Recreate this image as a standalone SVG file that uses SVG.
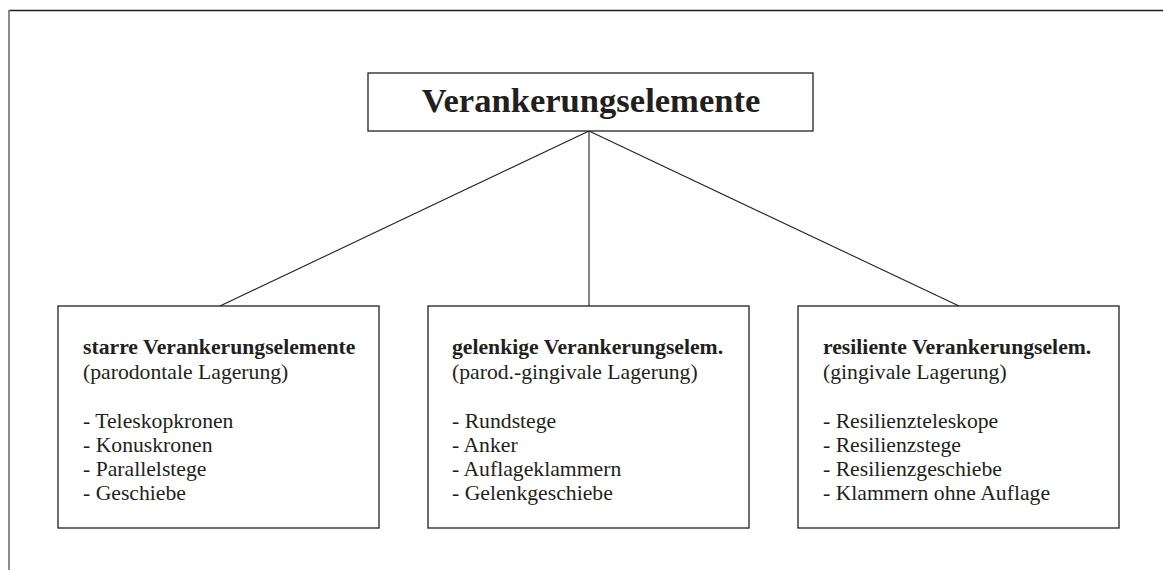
<svg xmlns="http://www.w3.org/2000/svg" width="1163" height="570" viewBox="0 0 1163 570">
<style>
.box{fill:#fff;stroke:#231f20;stroke-width:1.3}
.conn{stroke:#231f20;stroke-width:1.1;fill:none}
.t{font-family:"Liberation Serif","Times New Roman",serif;font-size:21.7px;fill:#231f20}
.b{font-weight:bold}
.title{font-family:"Liberation Serif","Times New Roman",serif;font-size:34.6px;font-weight:bold;fill:#231f20}
</style>
<rect width="1163" height="570" fill="#fff"/>
<g id="frame">
<line x1="9" y1="10.5" x2="1163" y2="10.5" stroke="#231f20" stroke-width="1.3"/>
<line x1="9" y1="10" x2="9" y2="570" stroke="#707070" stroke-width="1.6"/>
</g>
<g id="connectors">
<line class="conn" x1="589" y1="131" x2="220" y2="306"/>
<line class="conn" x1="589" y1="131" x2="589" y2="306"/>
<line class="conn" x1="589" y1="131" x2="959" y2="306"/>
</g>
<g id="root">
<rect class="box" x="368" y="73" width="445" height="58"/>
<text class="title" x="591" y="112" text-anchor="middle">Verankerungselemente</text>
</g>
<g id="starr">
<rect class="box" x="58" y="306" width="321" height="222"/>
<text class="t" x="83" y="354"><tspan class="b">starre Verankerungselemente</tspan><tspan x="83" y="379">(parodontale Lagerung)</tspan><tspan x="83" y="428">- Teleskopkronen</tspan><tspan x="83" y="452">- Konuskronen</tspan><tspan x="83" y="476">- Parallelstege</tspan><tspan x="83" y="500">- Geschiebe</tspan></text>
</g>
<g id="gelenkig">
<rect class="box" x="428" y="306" width="321" height="222"/>
<text class="t" x="452" y="354"><tspan class="b">gelenkige Verankerungselem.</tspan><tspan x="452" y="379">(parod.-gingivale Lagerung)</tspan><tspan x="452" y="428">- Rundstege</tspan><tspan x="452" y="452">- Anker</tspan><tspan x="452" y="476">- Auflageklammern</tspan><tspan x="452" y="500">- Gelenkgeschiebe</tspan></text>
</g>
<g id="resilient">
<rect class="box" x="798" y="306" width="321" height="222"/>
<text class="t" x="823" y="354"><tspan class="b">resiliente Verankerungselem.</tspan><tspan x="823" y="379">(gingivale Lagerung)</tspan><tspan x="823" y="428">- Resilienzteleskope</tspan><tspan x="823" y="452">- Resilienzstege</tspan><tspan x="823" y="476">- Resilienzgeschiebe</tspan><tspan x="823" y="500">- Klammern ohne Auflage</tspan></text>
</g>
</svg>
